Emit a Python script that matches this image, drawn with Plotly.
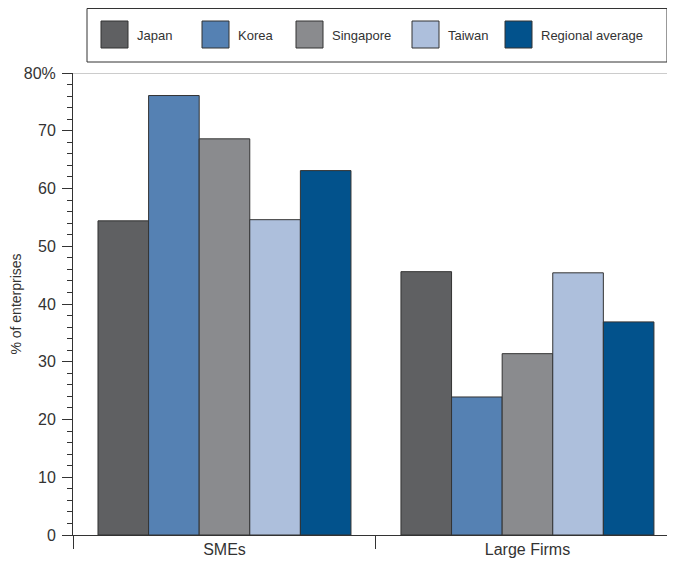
import plotly.graph_objects as go

categories = ["SMEs", "Large Firms"]
series_names = ["Japan", "Korea", "Singapore", "Taiwan", "Regional average"]
japan = [54.4, 45.6]
korea = [76.1, 23.9]
singapore = [68.6, 31.4]
taiwan = [54.6, 45.4]
regional = [63.1, 36.9]
series_values = [japan, korea, singapore, taiwan, regional]
colors = ["#5f6062", "#5581b3", "#8a8b8e", "#adbfdc", "#02528c"]
y_tickvals = [0, 10, 20, 30, 40, 50, 60, 70, 80]
y_ticktext = ["0", "10", "20", "30", "40", "50", "60", "70", "80%"]

FONT = "Liberation Sans"
OFF = 8  # page body margin
W, H = 675 - OFF, 570 - OFF
ml, mr, mt, mb = 73 - OFF, 0, 73 - OFF, 35

fig = go.Figure()
for name, vals, col in zip(series_names, series_values, colors):
    fig.add_trace(go.Bar(
        x=categories, y=vals, name=name,
        marker=dict(color=col, line=dict(color="#333333", width=1)),
        showlegend=False,
    ))

fig.update_layout(
    width=W, height=H,
    margin=dict(l=ml, r=mr, t=mt, b=mb, autoexpand=False),
    paper_bgcolor="white", plot_bgcolor="white",
    barmode="group", bargap=0.165, bargroupgap=0,
    font=dict(family=FONT, color="#333333", size=15),
    xaxis=dict(
        type="category", range=[-0.5, 1.487], automargin=False,
        showline=True, linecolor="#333333", linewidth=1,
        ticks="outside", tickson="boundaries", ticklen=13, tickcolor="#333333",
        tickfont=dict(size=16, color="#333333"),
        showgrid=False, zeroline=False,
    ),
    yaxis=dict(
        range=[0, 80], tickvals=y_tickvals, ticktext=y_ticktext, automargin=False,
        showline=True, linecolor="#333333", linewidth=1,
        ticks="outside", ticklen=10, tickcolor="#333333",
        tickfont=dict(size=16, color="#333333"), ticklabelstandoff=3,
        minor=dict(dtick=2, ticks="outside", ticklen=5, tickcolor="#333333"),
        showgrid=False, zeroline=False,
        title=dict(text="% of enterprises", font=dict(size=14, color="#333333"), standoff=2),
    ),
)

# top frame line at the 80% level
fig.add_shape(type="line", xref="paper", yref="y", x0=0, x1=1, y0=80, y1=80,
              line=dict(color="#999999", width=1))

# custom legend (box + swatches + labels); coordinates given in screen pixels
pw = W - ml - mr
ph = H - mt - mb
def px(xp):
    return (xp - OFF - ml) / pw
def py(yp):
    return (H - mb - (yp - OFF)) / ph

fig.add_shape(type="rect", xref="paper", yref="paper",
              x0=px(87), x1=px(667), y0=py(62), y1=py(8.5),
              line=dict(color="#333333", width=1), fillcolor="white")
sw_x = [101, 202, 296, 412, 505]
for name, col, sx in zip(series_names, colors, sw_x):
    fig.add_shape(type="rect", xref="paper", yref="paper",
                  x0=px(sx), x1=px(sx + 27), y0=py(48), y1=py(21),
                  line=dict(color="#333333", width=1), fillcolor=col)
    fig.add_annotation(xref="paper", yref="paper", x=px(sx + 34), y=py(35),
                       text=name, showarrow=False, xanchor="left", yanchor="middle",
                       font=dict(size=13, color="#333333", family=FONT))

fig.write_html("out.html")
